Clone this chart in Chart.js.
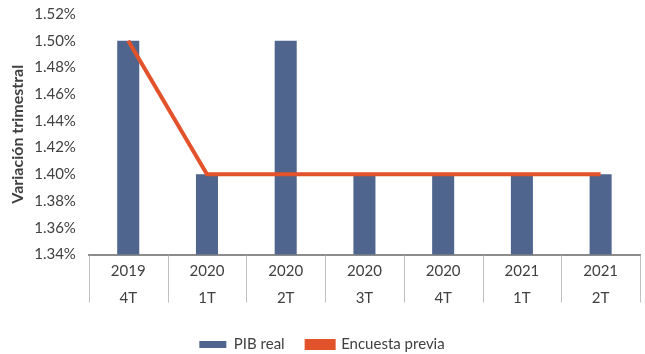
<!DOCTYPE html>
<html><head><meta charset="utf-8">
<script src="https://cdn.jsdelivr.net/npm/chart.js@4"></script>
<style>html,body{margin:0;padding:0;background:#fff}#w{width:645px;height:354px}</style>
</head><body><div id="w"><canvas id="c"></canvas></div>
<script>
const categories = [['2019','4T'],['2020','1T'],['2020','2T'],['2020','3T'],['2020','4T'],['2021','1T'],['2021','2T']];
const pibReal = [1.50, 1.40, 1.50, 1.40, 1.40, 1.40, 1.40];
const encuestaPrevia = [1.50, 1.40, 1.40, 1.40, 1.40, 1.40, 1.40];
const yMin = 1.34, yMax = 1.52, yStep = 0.02;

const FONT = "Lato, 'Open Sans', sans-serif";
const separators = {
  id:'separators',
  afterDatasetsDraw(chart){
    const x = chart.scales.x, ctx = chart.ctx, n = chart.data.labels.length;
    const top = chart.chartArea.bottom + 1, bottom = top + 47;
    ctx.save();
    ctx.strokeStyle = '#BFBFBF'; ctx.lineWidth = 1;
    const half = (x.getPixelForValue(1) - x.getPixelForValue(0)) / 2;
    for (let i = 0; i <= n; i++) {
      const px = Math.round((i < n ? x.getPixelForValue(i) - half : x.getPixelForValue(n-1) + half)) + 0.5;
      ctx.beginPath(); ctx.moveTo(px, top); ctx.lineTo(px, bottom); ctx.stroke();
    }
    ctx.restore();
  }
};
new Chart(document.getElementById('c'), {
  data: {
    labels: categories,
    datasets: [
      {type:'bar', label:'PIB real', data:pibReal, backgroundColor:'#50658E', categoryPercentage:1, barPercentage:0.28, order:2},
      {type:'line', label:'Encuesta previa', data:encuestaPrevia, borderColor:'#E2522B', backgroundColor:'#E2522B', borderWidth:4, pointRadius:0, tension:0, order:1}
    ]
  },
  plugins:[separators],
  options: {
    responsive:true, maintainAspectRatio:false, animation:false,
    layout:{padding:{left:4,right:5,top:12,bottom:-8}},
    plugins:{
      legend:{position:'bottom', labels:{sort:(a,b)=>a.datasetIndex-b.datasetIndex, boxWidth:27, boxHeight:7, padding:22, color:'#404040', font:{family:FONT,size:15}}},
      tooltip:{enabled:false}
    },
    scales:{
      x:{
        offset:true,
        grid:{display:false, drawTicks:false},
        border:{display:true, color:'#8C8C8C', width:2},
        ticks:{color:'#404040', font:{family:FONT,size:15, lineHeight:1.75}, padding:4, maxRotation:0}
      },
      y:{
        min:yMin, max:yMax,
        grid:{display:false},
        border:{display:false},
        ticks:{stepSize:yStep, color:'#404040', font:{family:FONT,size:15}, padding:5, callback:v=>v.toFixed(2)+'%'},
        title:{display:true, text:'Variación trimestral', color:'#404040', font:{family:FONT,size:16,weight:'bold'}, padding:{bottom:2}}
      }
    }
  }
});
</script></body></html>
